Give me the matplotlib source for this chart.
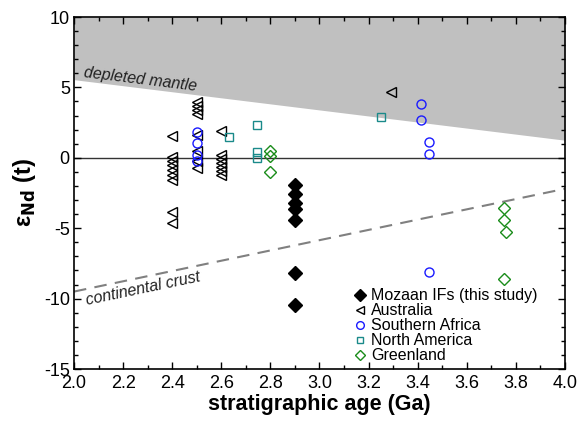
import numpy as np
import matplotlib
matplotlib.use("Agg")
import matplotlib.pyplot as plt
from matplotlib.ticker import MultipleLocator

plt.rcParams['font.family'] = ['Liberation Sans', 'DejaVu Sans']
plt.rcParams['axes.unicode_minus'] = False

# reference curves (endpoints at 2.0 and 4.0 Ga)
curve_age = [2.0, 4.0]
mantle_eps = [5.55, 1.25]
crust_eps = [-9.5, -2.2]

# Mozaan IFs (this study)
moz_age = [2.9, 2.9, 2.9, 2.9, 2.9, 2.9, 2.9]
moz_eps = [-1.93, -2.58, -3.23, -3.65, -4.4, -8.18, -10.48]

# Australia
aus_age = [2.4] * 9 + [2.5] * 8 + [2.6] * 7 + [3.29]
aus_eps = [1.55, 0.08, -0.2, -0.5, -0.87, -1.22, -1.58, -3.85, -4.65,
           3.98, 3.7, 3.4, 3.1, 1.65, 0.45, -0.2, -0.72,
           1.88, 0.2, -0.05, -0.35, -0.65, -0.92, -1.2,
           4.65]

# Southern Africa
saf_age = [2.5, 2.5, 2.5, 2.5, 3.415, 3.415, 3.447, 3.447, 3.447]
saf_eps = [1.8, 1.05, 0.2, -0.2, 3.85, 2.65, 1.1, 0.3, -8.1]

# North America
nam_age = [2.63, 2.745, 2.745, 2.745, 3.25]
nam_eps = [1.46, 2.35, 0.43, -0.02, 2.9]

# Greenland
grl_age = [2.8, 2.8, 2.8, 3.75, 3.75, 3.76, 3.75]
grl_eps = [0.45, 0.15, -1.02, -3.6, -4.45, -5.25, -8.62]

fig = plt.figure(figsize=(5.79, 4.24), dpi=100)
ax = fig.add_axes([0.1278, 0.1297, 0.848, 0.8302])

ax.fill_between(curve_age, mantle_eps, 10, color='#c0c0c0', lw=0, zorder=0)
ax.axhline(0, color='#333333', lw=1.0, zorder=1)
ax.plot(curve_age, crust_eps, color='#808080', lw=1.5, dashes=(6, 4), zorder=1)

ax.text(2.035, 5.5, 'depleted mantle', fontsize=11.5, style='italic', color='#222222',
        rotation=-7.0, rotation_mode='anchor', ha='left', va='bottom')
ax.text(2.055, -10.65, 'continental crust', fontsize=11.5, style='italic', color='#222222',
        rotation=11.8, rotation_mode='anchor', ha='left', va='bottom')

ax.plot(moz_age, moz_eps, 'D', ms=7.5, color='black', ls='none', label='Mozaan IFs (this study)', zorder=3)
ax.plot(aus_age, aus_eps, '<', ms=6.5, mfc='none', mec='black', mew=1.0, ls='none', label='Australia', zorder=3)
ax.plot(saf_age, saf_eps, 'o', ms=6.5, mfc='none', mec='#1a1aff', mew=1.0, ls='none', label='Southern Africa', zorder=3)
ax.plot(nam_age, nam_eps, 's', ms=5.5, mfc='none', mec='#1a8a8a', mew=1.0, ls='none', label='North America', zorder=3)
ax.plot(grl_age, grl_eps, 'D', ms=6.0, mfc='none', mec='#1a8c1a', mew=1.0, ls='none', label='Greenland', zorder=3)

ax.set_xlim(2.0, 4.0)
ax.set_ylim(-15, 10)
ax.xaxis.set_major_locator(MultipleLocator(0.2))
ax.xaxis.set_minor_locator(MultipleLocator(0.1))
ax.yaxis.set_major_locator(MultipleLocator(5))
ax.yaxis.set_minor_locator(MultipleLocator(1))
ax.xaxis.set_major_formatter(matplotlib.ticker.FormatStrFormatter('%.1f'))
ax.tick_params(which='both', direction='in', top=True, right=True, labelsize=13, width=1.0)
ax.tick_params(axis='x', pad=4)
ax.tick_params(axis='y', pad=3)
ax.tick_params(which='major', length=5)
ax.tick_params(which='minor', length=3)
for s in ax.spines.values():
    s.set_linewidth(1.2)

ax.set_xlabel('stratigraphic age (Ga)', fontsize=15.5, fontweight='bold', labelpad=2)
ax.set_ylabel(r'ε$_{\mathbf{Nd}}$ (t)', fontsize=17, fontweight='bold', labelpad=4)

ax.legend(loc='lower left', bbox_to_anchor=(0.54, -0.02), frameon=False, fontsize=11.5,
          handletextpad=0.2, labelspacing=0.0, handlelength=1.0, borderpad=0.3,
          markerscale=0.85)

fig.savefig('out.png', dpi=100)
